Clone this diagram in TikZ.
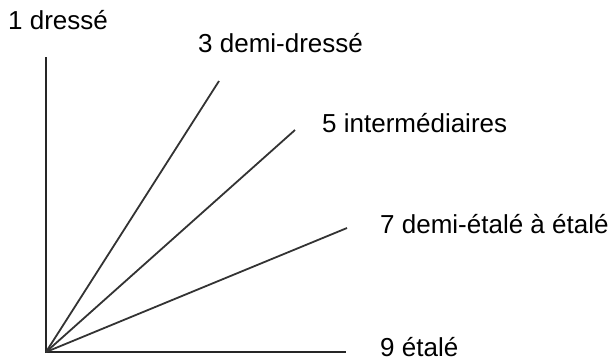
\documentclass[tikz,border=0pt]{standalone}
\usepackage{fontspec}
\setmainfont{Liberation Sans}
\begin{document}
\begin{tikzpicture}[x=1pt,y=-1pt,
  lbl/.style={anchor=base west,inner sep=0pt,font=\fontsize{26}{31}\selectfont},
  axis/.style={line width=2.2pt,draw=black!85},
  ray/.style={line width=1.8pt,draw=black!80}]
\useasboundingbox (0,0) rectangle (615,360);
\coordinate (o) at (46,352);
\coordinate (ytop) at (46,57);
\coordinate (xend) at (346,352);
\coordinate (r3) at (219,81);
\coordinate (r5) at (295,130);
\coordinate (r7) at (347,228);
\draw[axis] (ytop) -- (o) -- (xend);
\draw[ray] (o) -- (r3);
\draw[ray] (o) -- (r5);
\draw[ray] (o) -- (r7);
\node[lbl] (l1) at (8,29) {1 dressé};
\node[lbl] (l3) at (198,52) {3 demi-dressé};
\node[lbl] (l5) at (322,132) {5 intermédiaires};
\node[lbl] (l7) at (380,233) {7 demi-étalé à étalé};
\node[lbl] (l9) at (380,356) {9 étalé};
\end{tikzpicture}
\end{document}
